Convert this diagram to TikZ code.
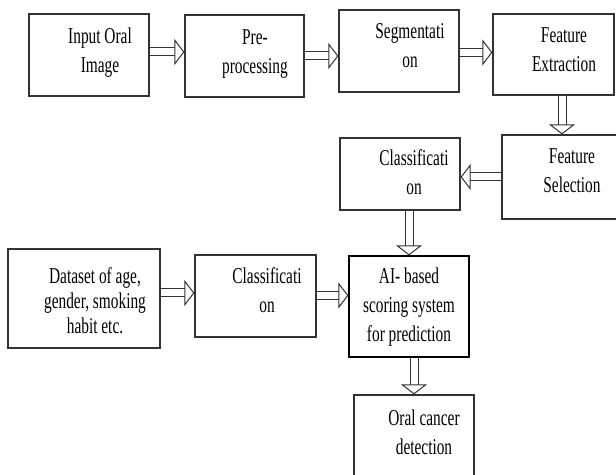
\documentclass[tikz,border=0pt]{standalone}
\usepackage{fontspec}
\setmainfont{Liberation Serif}[FakeStretch=0.68]
\usepackage{tikz}
\usetikzlibrary{arrows.meta,fit}

\begin{document}
\begin{tikzpicture}[x=0.5pt, y=-0.5pt,
  box/.style={draw=black!80, line width=0.6pt, inner sep=0pt},
  txt/.style={anchor=base, align=center, inner sep=0pt,
    font=\fontsize{11.3}{14.5}\selectfont},
  hollow/.style={draw=black!80, line width=0.5pt, double=white,
    double distance=3.5pt,
    -{Triangle[open, width=13pt, length=5pt]}}]
  \useasboundingbox (0,0) rectangle (616,475);
  % boxes
  \node[box, fit={(29,14) (149,96)}] (b1) {};
  \node[box, fit={(185,15) (304,97)}] (b2) {};
  \node[box, fit={(339,10) (459,92)}] (b3) {};
  \node[box, fit={(493,14) (614,95)}] (b4) {};
  \node[box, fit={(502,135) (630,219)}] (b5) {};
  \node[box, fit={(340,138) (460,210)}] (b6) {};
  \node[box, fit={(8,249) (160,348)}] (b7) {};
  \node[box, fit={(195,255) (316,337)}] (b8) {};
  \node[box, draw=black, fit={(349,256) (469,357)}] (b9) {};
  \node[box, fit={(354,395) (474,495)}] (b10) {};
  % texts (anchored at the last baseline)
  \node[txt] (t1) at (100,73) {Input Oral\\Image};
  \node[txt] (t2) at (255,74) {Pre-\\processing};
  \node[txt] (t3) at (410,68) {Segmentati\\on};
  \node[txt] (t4) at (564,72) {Feature\\Extraction};
  \node[txt] (t5) at (572,193) {Feature\\Selection};
  \node[txt] (t6) at (414,195) {Classificati\\on};
  \node[txt, font=\fontsize{11.3}{12.5}\selectfont] (t7) at (95,334)
    {Dataset of age,\\gender, smoking\\habit etc.};
  \node[txt] (t8) at (267,313) {Classificati\\on};
  \node[txt] (t9) at (409,342) {AI- based\\scoring system\\for prediction};
  \node[txt] (t10) at (424,455) {Oral cancer\\detection};
  % arrows
  \draw[hollow] ([yshift=1.5pt]b1.east) -- ([yshift=1.5pt]b1.east -| b2.west);
  \draw[hollow] (b2.east) -- (b2.east -| b3.west);
  \draw[hollow] ([yshift=1pt]b4.west -| b3.east) -- ([yshift=1pt]b4.west);
  \draw[hollow] ([xshift=-2pt]b5.north |- b4.south) -- ([xshift=-2pt]b5.north);
  \draw[hollow] (b5.west) -- (b5.west -| b6.east);
  \draw[hollow] (b9.north |- b6.south) -- (b9.north);
  \draw[hollow] ([yshift=1.5pt]b8.west -| b7.east) -- ([yshift=1.5pt]b8.west);
  \draw[hollow] ([yshift=5.5pt]b9.west -| b8.east) -- ([yshift=5.5pt]b9.west);
  \draw[hollow] (b10.north |- b9.south) -- (b10.north);
\end{tikzpicture}
\end{document}
